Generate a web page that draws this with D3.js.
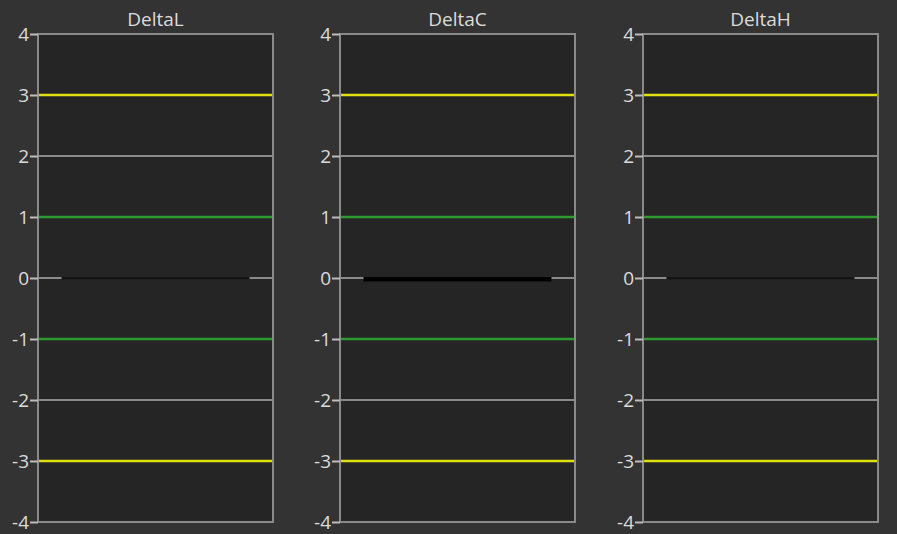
<!DOCTYPE html>
<html><head><meta charset="utf-8">
<script src="https://cdn.jsdelivr.net/npm/d3@7"></script>
<style>html,body{margin:0;padding:0;background:#333333;}svg{display:block;}</style>
</head><body>
<svg id="c" width="897" height="534"></svg>
<script>
const panels = ["DeltaL", "DeltaC", "DeltaH"];
const values = [-0.005, -0.04, -0.005];
const tickValues = [-4, -3, -2, -1, 0, 1, 2, 3, 4];
const limitLevels = [-3, -1, 1, 3];
const limitColors = ["#e0e010", "#2f9a2f", "#2f9a2f", "#e0e010"];
const barColors = ["#141414", "#000000", "#141414"];

const svg = d3.select("#c");
const plotLefts = [38, 340, 643];
const plotW = 235;
const y = d3.scaleLinear().domain([-4, 4]).range([522, 34]);

panels.forEach((name, i) => {
  const g = svg.append("g").attr("transform", `translate(${plotLefts[i]},0)`);
  const x = d3.scaleBand().domain([name]).range([0, plotW]).paddingInner(0.2).paddingOuter(0.1);
  g.append("rect").attr("x", 0).attr("y", y(4)).attr("width", plotW).attr("height", y(-4) - y(4))
    .attr("fill", "#252525");
  g.selectAll("line.grid").data(tickValues.filter(t => !limitLevels.includes(t))).enter()
    .append("line").attr("x1", 0).attr("x2", plotW)
    .attr("y1", d => y(d)).attr("y2", d => y(d))
    .attr("stroke", "#8a8a8a").attr("stroke-width", 2);
  g.selectAll("line.lim").data(limitLevels).enter()
    .append("line").attr("x1", 0).attr("x2", plotW)
    .attr("y1", d => y(d)).attr("y2", d => y(d))
    .attr("stroke", (d, k) => limitColors[k]).attr("stroke-width", 2.5);
  const v = values[i];
  g.append("rect").attr("x", x(name)).attr("width", x.bandwidth())
    .attr("y", y(Math.max(0, v)) - 1).attr("height", Math.abs(y(v) - y(0)) + 2)
    .attr("fill", barColors[i]);
  g.append("rect").attr("x", 0).attr("y", y(4)).attr("width", plotW).attr("height", y(-4) - y(4))
    .attr("fill", "none").attr("stroke", "#8a8a8a").attr("stroke-width", 2);
  const ax = g.append("g").call(d3.axisLeft(y).tickValues(tickValues).tickSize(8).tickPadding(1)
    .tickFormat(d => String(d)));
  ax.select(".domain").remove();
  ax.selectAll(".tick line").attr("stroke", "#bdbdbd").attr("stroke-width", 2);
  ax.selectAll(".tick text").attr("fill", "#dcdcdc").style("font-family", "'Open Sans', sans-serif").style("font-size", "19px")
    .attr("dy", "0.36em");
  g.append("text").attr("x", plotW / 2).attr("y", 26).attr("text-anchor", "middle")
    .attr("fill", "#dcdcdc").style("font-family", "'Open Sans', sans-serif").style("font-size", "19px").text(name);
});
</script>
</body></html>
